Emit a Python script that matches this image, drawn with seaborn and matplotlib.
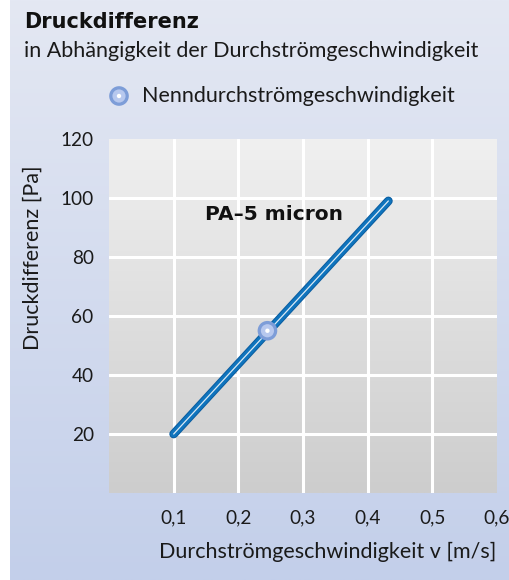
import numpy as np
import pandas as pd
import matplotlib
matplotlib.use("Agg")
import matplotlib.pyplot as plt
import seaborn as sns
from matplotlib.colors import LinearSegmentedColormap

# data
velocity = [0.10, 0.432]
pressure = [20, 99]
nominal_v = [0.245]
nominal_p = [55]
x_ticks = [0.1, 0.2, 0.3, 0.4, 0.5, 0.6]
x_tick_labels = ["0,1", "0,2", "0,3", "0,4", "0,5", "0,6"]
y_ticks = [20, 40, 60, 80, 100, 120]
series_name = "PA–5 micron"

sns.set_theme(style="white")
plt.rcParams['font.family'] = ['Lato', 'DejaVu Sans']

W, H, DPI = 510, 580, 100
fig = plt.figure(figsize=(W / DPI, H / DPI), dpi=DPI)
fig.patch.set_facecolor("white")

# figure background gradient (white stripe on the left)
bg = fig.add_axes([10 / W, 0, 1 - 10 / W, 1], zorder=-10)
bg_cmap = LinearSegmentedColormap.from_list("bg", ["#e4e8f3", "#c3cfea"])
bg.imshow(np.linspace(0, 1, 256).reshape(-1, 1), aspect="auto", cmap=bg_cmap,
          extent=[0, 1, 0, 1], origin="upper")
bg.set_xlim(0, 1)
bg.set_ylim(0, 1)
bg.set_axis_off()

left, right, top, bottom = 109, 497, 139, 493
ax = fig.add_axes([left / W, 1 - bottom / H, (right - left) / W, (bottom - top) / H])
ax.set_xlim(0, 0.6)
ax.set_ylim(0, 120)

ax_cmap = LinearSegmentedColormap.from_list("ax", ["#f0f0f0", "#cdcdcd"])
ax.imshow(np.linspace(0, 1, 256).reshape(-1, 1), aspect="auto", cmap=ax_cmap,
          extent=[0, 0.6, 0, 120], origin="upper", zorder=0)

for xv in x_ticks[:-1]:
    ax.axvline(xv, color="white", lw=2.2, zorder=1)
for yv in y_ticks[:-1]:
    ax.axhline(yv, color="white", lw=2.2, zorder=1)

df = pd.DataFrame({"v": velocity, "p": pressure})
sns.lineplot(data=df, x="v", y="p", ax=ax, color="#0a5c9f", lw=6.3,
             solid_capstyle="round", zorder=3)
sns.lineplot(data=df, x="v", y="p", ax=ax, color="#0f74bd", lw=4.9,
             solid_capstyle="round", zorder=4)
sns.lineplot(data=df, x="v", y="p", ax=ax, color="#ffffff", lw=0.9,
             solid_capstyle="round", zorder=5, alpha=0.85)

nd = pd.DataFrame({"v": nominal_v, "p": nominal_p})
sns.scatterplot(data=nd, x="v", y="p", ax=ax, s=200, color="#7d9dd8",
                edgecolor="none", zorder=6)
sns.scatterplot(data=nd, x="v", y="p", ax=ax, s=90, color="#b7c8ee",
                edgecolor="none", zorder=7)
sns.scatterplot(data=nd, x="v", y="p", ax=ax, s=10, color="#ffffff",
                edgecolor="none", zorder=8)

ax.text(0.148, 94.3, series_name, fontsize=14.5, fontweight="bold", color="#111111",
        family=["DejaVu Sans"], ha="left", va="center", zorder=9)

ax.set_xticks(x_ticks)
ax.set_xticklabels(x_tick_labels)
ax.set_yticks(y_ticks)
ax.tick_params(axis="both", length=0, labelsize=13.7, colors="#1a1a1a")
ax.tick_params(axis="x", pad=12)
ax.tick_params(axis="y", pad=11)
for s in ax.spines.values():
    s.set_visible(False)
ax.set_xlabel("Durchströmgeschwindigkeit v [m/s]", fontsize=15.5, color="#1a1a1a")
ax.set_ylabel("Druckdifferenz [Pa]", fontsize=15.5, color="#1a1a1a")
ax.xaxis.set_label_coords((328 - left) / (right - left), -(552 - bottom) / (bottom - top))
ax.xaxis.label.set_va("center")
ax.yaxis.set_label_coords(-(left - 33) / (right - left), (bottom - 258) / (bottom - top))
ax.yaxis.label.set_va("center")

# titles
fig.text(24 / W, 1 - 22 / H, "Druckdifferenz", fontsize=15, fontweight="bold",
         family=["DejaVu Sans"], color="#111111", ha="left", va="center")
fig.text(24 / W, 1 - 51 / H, "in Abhängigkeit der Durchströmgeschwindigkeit",
         fontsize=15.5, color="#1a1a1a", ha="left", va="center")

# legend marker + text
lx = (119 - 10) / (W - 10)
ly = 1 - 96 / H
bg.scatter([lx], [ly], s=200, color="#7d9dd8", edgecolor="none", zorder=2)
bg.scatter([lx], [ly], s=90, color="#b7c8ee", edgecolor="none", zorder=3)
bg.scatter([lx], [ly], s=10, color="#ffffff", edgecolor="none", zorder=4)
fig.text(142 / W, 1 - 96 / H, "Nenndurchströmgeschwindigkeit", fontsize=15.5,
         color="#1a1a1a", ha="left", va="center")

fig.savefig("out.png", dpi=DPI, facecolor="white")
